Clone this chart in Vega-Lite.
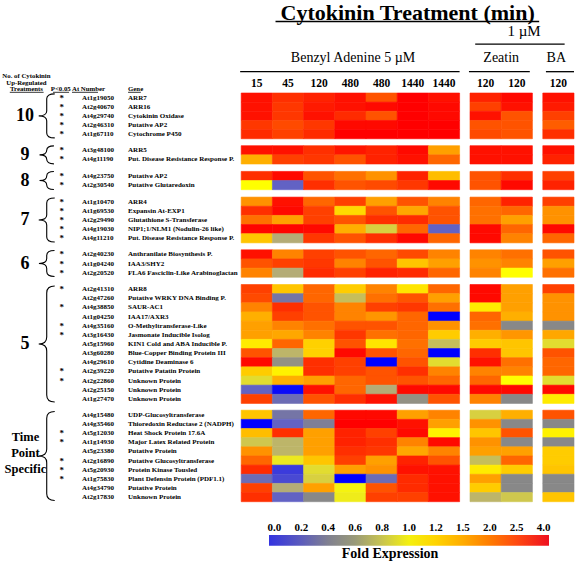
{
"$schema":"https://vega.github.io/schema/vega-lite/v6.json",
"padding":{"left":2,"right":2,"top":0,"bottom":0},
"config":{"view":{"stroke":null},"font":"Liberation Serif","axis":{"disable":true},"legend":{"disable":true}},
"data":{"values":[
{"grp":"10","p":"*","at":"At1g19050","gene":"ARR7","BA15":3.6,"BA45":2.9,"BA120":3.2,"BA480a":3.6,"BA480b":2.3,"BA1440a":4,"BA1440b":3.6,"Z120a":3.2,"Z120b":3.8,"B120":3.6},
{"grp":"10","p":"*","at":"At2g40670","gene":"ARR16","BA15":3.6,"BA45":2.7,"BA120":3.4,"BA480a":3.6,"BA480b":3.8,"BA1440a":4,"BA1440b":3.8,"Z120a":2.5,"Z120b":3.6,"B120":3.4},
{"grp":"10","p":"*","at":"At4g29740","gene":"Cytokinin Oxidase","BA15":3.6,"BA45":2.7,"BA120":3.6,"BA480a":3.0,"BA480b":2.3,"BA1440a":4,"BA1440b":3.8,"Z120a":3.6,"Z120b":2.3,"B120":2.5},
{"grp":"10","p":"*","at":"At2g46310","gene":"Putative AP2","BA15":2.7,"BA45":2.4,"BA120":2.7,"BA480a":3.8,"BA480b":3.8,"BA1440a":4,"BA1440b":4,"Z120a":2.3,"Z120b":2.3,"B120":2.2},
{"grp":"10","p":"*","at":"At1g67110","gene":"Cytochrome P450","BA15":3.0,"BA45":2.5,"BA120":3.0,"BA480a":4,"BA480b":4,"BA1440a":4,"BA1440b":4,"Z120a":2.4,"Z120b":2.3,"B120":2.9},
{"grp":"9","p":"*","at":"At3g48100","gene":"ARR5","BA15":3.6,"BA45":3.6,"BA120":2.9,"BA480a":3.5,"BA480b":3.2,"BA1440a":3.8,"BA1440b":1.5,"Z120a":3.6,"Z120b":3.6,"B120":3.6},
{"grp":"9","p":"*","at":"At4g11190","gene":"Put. Disease Resistance Response P.","BA15":1.4,"BA45":2.5,"BA120":2.7,"BA480a":2.3,"BA480b":3.2,"BA1440a":3.6,"BA1440b":2.1,"Z120a":3.6,"Z120b":3.6,"B120":3.2},
{"grp":"8","p":"*","at":"At4g23750","gene":"Putative AP2","BA15":2.9,"BA45":3.8,"BA120":2.3,"BA480a":2.0,"BA480b":1.65,"BA1440a":3.2,"BA1440b":1.3,"Z120a":2.3,"Z120b":2.9,"B120":2.5},
{"grp":"8","p":"*","at":"At2g30540","gene":"Putative Glutaredoxin","BA15":1.0,"BA45":0.2,"BA120":2.9,"BA480a":2.3,"BA480b":2.4,"BA1440a":2.7,"BA1440b":3.8,"Z120a":2.3,"Z120b":3.8,"B120":3.2},
{"grp":"7","p":"*","at":"At1g10470","gene":"ARR4","BA15":1.65,"BA45":3.6,"BA120":2.1,"BA480a":2.5,"BA480b":1.5,"BA1440a":2.3,"BA1440b":1.8,"Z120a":2.1,"Z120b":3.2,"B120":2.5},
{"grp":"7","p":"*","at":"At1g69530","gene":"Expansin At-EXP1","BA15":2.9,"BA45":3.8,"BA120":2.5,"BA480a":1.15,"BA480b":2.3,"BA1440a":1.45,"BA1440b":2.3,"Z120a":2.0,"Z120b":2.1,"B120":1.65},
{"grp":"7","p":"*","at":"At2g29490","gene":"Glutathione S-Transferase","BA15":2.0,"BA45":1.5,"BA120":2.5,"BA480a":2.3,"BA480b":2.9,"BA1440a":3.0,"BA1440b":2.3,"Z120a":2.0,"Z120b":1.5,"B120":1.65},
{"grp":"7","p":"*","at":"At4g19030","gene":"NIP1;1/NLM1 (Nodulin-26 like)","BA15":3.9,"BA45":3.9,"BA120":3.8,"BA480a":1.4,"BA480b":0.8,"BA1440a":2.1,"BA1440b":0.2,"Z120a":3.8,"Z120b":2.1,"B120":3.8},
{"grp":"7","p":"*","at":"At4g11210","gene":"Put. Disease Resistance Response P.","BA15":1.25,"BA45":0.6,"BA120":2.7,"BA480a":2.3,"BA480b":2.9,"BA1440a":3.8,"BA1440b":2.1,"Z120a":3.8,"Z120b":1.8,"B120":2.1},
{"grp":"6","p":"*","at":"At2g40230","gene":"Anthranilate Biosynthesis P.","BA15":3.6,"BA45":1.8,"BA120":2.5,"BA480a":2.3,"BA480b":2.1,"BA1440a":2.4,"BA1440b":1.8,"Z120a":1.8,"Z120b":2.0,"B120":2.3},
{"grp":"6","p":"*","at":"At1g04240","gene":"IAA3/SHY2","BA15":2.3,"BA45":2.5,"BA120":2.7,"BA480a":1.8,"BA480b":2.3,"BA1440a":1.25,"BA1440b":1.5,"Z120a":1.65,"Z120b":1.8,"B120":1.5},
{"grp":"6","p":"*","at":"At2g20520","gene":"FLA6 Fasciclin-Like Arabinoglactan","BA15":1.8,"BA45":0.6,"BA120":3.0,"BA480a":2.5,"BA480b":3.2,"BA1440a":3.0,"BA1440b":2.1,"Z120a":1.8,"Z120b":1.0,"B120":2.0},
{"grp":"5","p":"*","at":"At2g41310","gene":"ARR8","BA15":2.5,"BA45":1.25,"BA120":2.1,"BA480a":1.2,"BA480b":1.8,"BA1440a":1.1,"BA1440b":2.1,"Z120a":3.8,"Z120b":1.5,"B120":2.5},
{"grp":"5","p":"","at":"At2g47260","gene":"Putative WRKY DNA Binding P.","BA15":2.4,"BA45":0.3,"BA120":2.1,"BA480a":0.7,"BA480b":2.0,"BA1440a":2.3,"BA1440b":1.5,"Z120a":3.8,"Z120b":1.5,"B120":1.65},
{"grp":"5","p":"*","at":"At4g38850","gene":"SAUR-AC1","BA15":1.8,"BA45":2.9,"BA120":2.3,"BA480a":1.8,"BA480b":2.5,"BA1440a":2.7,"BA1440b":2.0,"Z120a":1.08,"Z120b":1.5,"B120":1.65},
{"grp":"5","p":"","at":"At1g04250","gene":"IAA17/AXR3","BA15":1.4,"BA45":2.5,"BA120":2.3,"BA480a":1.8,"BA480b":1.6,"BA1440a":2.1,"BA1440b":0.0,"Z120a":2.1,"Z120b":1.4,"B120":1.65},
{"grp":"5","p":"*","at":"At4g35160","gene":"O-Methyltransferase-Like","BA15":1.5,"BA45":1.8,"BA120":2.0,"BA480a":2.3,"BA480b":2.3,"BA1440a":2.1,"BA1440b":1.65,"Z120a":2.0,"Z120b":0.4,"B120":0.4},
{"grp":"5","p":"*","at":"At3g16430","gene":"Jasmonate Inducible Isolog","BA15":1.5,"BA45":1.45,"BA120":1.8,"BA480a":2.7,"BA480b":2.0,"BA1440a":2.1,"BA1440b":1.2,"Z120a":1.4,"Z120b":1.6,"B120":1.45},
{"grp":"5","p":"","at":"At5g15960","gene":"KIN1 Cold and ABA Inducible P.","BA15":1.08,"BA45":2.1,"BA120":1.18,"BA480a":2.3,"BA480b":1.1,"BA1440a":2.0,"BA1440b":0.7,"Z120a":1.2,"Z120b":1.25,"B120":0.85},
{"grp":"5","p":"","at":"At3g60280","gene":"Blue-Copper Binding Protein III","BA15":2.3,"BA45":0.65,"BA120":1.18,"BA480a":3.8,"BA480b":2.3,"BA1440a":2.1,"BA1440b":0.0,"Z120a":2.9,"Z120b":1.25,"B120":2.3},
{"grp":"5","p":"","at":"At4g29610","gene":"Cytidine Deaminase 6","BA15":3.8,"BA45":0.45,"BA120":2.9,"BA480a":2.5,"BA480b":0.0,"BA1440a":2.3,"BA1440b":0.85,"Z120a":3.6,"Z120b":2.0,"B120":2.1},
{"grp":"5","p":"*","at":"At2g39220","gene":"Putative Patatin Protein","BA15":1.2,"BA45":1.05,"BA120":2.9,"BA480a":2.5,"BA480b":2.3,"BA1440a":2.9,"BA1440b":1.8,"Z120a":1.8,"Z120b":1.8,"B120":2.1},
{"grp":"5","p":"*","at":"At2g22860","gene":"Unknown Protein","BA15":0.85,"BA45":1.4,"BA120":1.5,"BA480a":2.1,"BA480b":2.3,"BA1440a":2.3,"BA1440b":2.1,"Z120a":2.1,"Z120b":1.0,"B120":0.85},
{"grp":"5","p":"","at":"At2g25150","gene":"Unknown Protein","BA15":0.2,"BA45":0.02,"BA120":3.6,"BA480a":2.1,"BA480b":0.6,"BA1440a":3.8,"BA1440b":3.8,"Z120a":3.8,"Z120b":3.8,"B120":3.8},
{"grp":"5","p":"","at":"At1g27470","gene":"Unknown Protein","BA15":2.5,"BA45":0.25,"BA120":2.3,"BA480a":2.9,"BA480b":3.6,"BA1440a":0.45,"BA1440b":2.3,"Z120a":1.8,"Z120b":0.4,"B120":1.08},
{"grp":"T","p":"","at":"At4g15480","gene":"UDP-Glucosyltransferase","BA15":1.25,"BA45":0.3,"BA120":2.1,"BA480a":3.8,"BA480b":3.8,"BA1440a":1.5,"BA1440b":1.8,"Z120a":0.8,"Z120b":1.4,"B120":2.3},
{"grp":"T","p":"","at":"At4g35460","gene":"Thioredoxin Reductase 2 (NADPH)","BA15":0.0,"BA45":0.2,"BA120":0.35,"BA480a":4,"BA480b":4,"BA1440a":3.6,"BA1440b":1.5,"Z120a":1.65,"Z120b":0.4,"B120":0.4},
{"grp":"T","p":"*","at":"At5g12030","gene":"Heat Shock Protein 17.6A","BA15":1.3,"BA45":2.9,"BA120":1.5,"BA480a":3.2,"BA480b":2.5,"BA1440a":3.8,"BA1440b":1.05,"Z120a":1.25,"Z120b":2.3,"B120":1.05},
{"grp":"T","p":"*","at":"At1g14930","gene":"Major Latex Related Protein","BA15":0.75,"BA45":0.65,"BA120":1.5,"BA480a":3.2,"BA480b":2.9,"BA1440a":1.8,"BA1440b":3.8,"Z120a":1.65,"Z120b":0.4,"B120":0.4},
{"grp":"T","p":"","at":"At5g23380","gene":"Putative Protein","BA15":1.65,"BA45":0.65,"BA120":1.5,"BA480a":2.9,"BA480b":2.7,"BA1440a":1.45,"BA1440b":1.8,"Z120a":1.5,"Z120b":1.5,"B120":1.2},
{"grp":"T","p":"*","at":"At2g16890","gene":"Putative Glucosyltransferase","BA15":2.1,"BA45":0.9,"BA120":1.25,"BA480a":2.5,"BA480b":1.5,"BA1440a":3.2,"BA1440b":2.3,"Z120a":0.7,"Z120b":2.1,"B120":1.2},
{"grp":"T","p":"*","at":"At5g20930","gene":"Protein Kinase Tousled","BA15":3.0,"BA45":0.12,"BA120":0.85,"BA480a":1.5,"BA480b":1.65,"BA1440a":3.6,"BA1440b":3.6,"Z120a":1.08,"Z120b":1.2,"B120":1.25},
{"grp":"T","p":"*","at":"At1g75830","gene":"Plant Defensin Protein (PDF1.1)","BA15":0.25,"BA45":0.15,"BA120":0.8,"BA480a":0.0,"BA480b":0.25,"BA1440a":3.0,"BA1440b":3.6,"Z120a":1.5,"Z120b":0.4,"B120":0.4},
{"grp":"T","p":"","at":"At4g34790","gene":"Putative Protein","BA15":2.5,"BA45":0.6,"BA120":1.5,"BA480a":0.95,"BA480b":2.3,"BA1440a":3.0,"BA1440b":3.6,"Z120a":1.2,"Z120b":0.4,"B120":0.4},
{"grp":"T","p":"","at":"At2g17830","gene":"Unknown Protein","BA15":2.9,"BA45":0.2,"BA120":0.4,"BA480a":0.92,"BA480b":2.5,"BA1440a":2.5,"BA1440b":3.6,"Z120a":0.65,"Z120b":0.75,"B120":1.25}
]},
"datasets":{
"cols":[{"col":"BA15","t":"15"},{"col":"BA45","t":"45"},{"col":"BA120","t":"120"},{"col":"BA480a","t":"480"},{"col":"BA480b","t":"480"},{"col":"BA1440a","t":"1440"},{"col":"BA1440b","t":"1440"},{"col":"Z120a","t":"120"},{"col":"Z120b","t":"120"},{"col":"B120","t":"120"}],
"legend":[{"lab":"0.0"},{"lab":"0.2"},{"lab":"0.4"},{"lab":"0.6"},{"lab":"0.8"},{"lab":"1.0"},{"lab":"1.2"},{"lab":"1.5"},{"lab":"2.0"},{"lab":"2.5"},{"lab":"4.0"}]
},
"spacing":0,
"bounds":"flush",
"vconcat":[
{
"width":572,"height":92.3,
"data":{"values":[{}]},
"layer":[
{"mark":{"type":"text","text":"Cytokinin Treatment (min)","fontSize":22,"fontWeight":"bold","align":"center","baseline":"alphabetic"},
 "encoding":{"x":{"datum":"BA1440a","bandPosition":0,"type":"nominal","scale":{"domain":["L0","L1","L2","L3","L4","L5","L6","L7","L8","L9","L10","L11","L12","L13","L14","L15","L16","L17","L18","L19","L20","L21","L22","p1","BA15","q1","p2","BA45","q2","p3","BA120","q3","p4","BA480a","q4","p5","BA480b","q5","p6","BA1440a","q6","p7","BA1440b","q7","g1","p8","Z120a","q8","p9","Z120b","q9","g2","p10","B120","q10"],"paddingInner":0,"paddingOuter":0}},
 "y":{"datum":10,"bandPosition":0.2,"type":"ordinal","scale":{"domain":[0,1,2,3,4,5,6,7,8,9,10,11,12,13,14,15,16,17,18,19,20,21,22,23,24,25,26,27,28,29,30,31,32,33,34,35,36,37,38,39,40,41,42,43,44,45,46],"paddingInner":0,"paddingOuter":0}}}},
{"mark":{"type":"rule","strokeWidth":1.6,"color":"black"},"encoding":{"x":{"datum":"p2","bandPosition":0.3,"type":"nominal"},"x2":{"datum":"g2","bandPosition":0.65},"y":{"datum":10,"bandPosition":0.95,"type":"ordinal"}}},
{"mark":{"type":"text","text":"1 µM","fontSize":15,"align":"center","baseline":"alphabetic"},"encoding":{"x":{"datum":"q9","bandPosition":0.2,"type":"nominal"},"y":{"datum":18,"type":"ordinal"}}},
{"mark":{"type":"rule","strokeWidth":1.3,"color":"black"},"encoding":{"x":{"datum":"p8","bandPosition":0.5,"type":"nominal"},"x2":{"datum":"q10","bandPosition":0.1},"y":{"datum":22,"type":"ordinal"}}},
{"mark":{"type":"text","text":"Benzyl Adenine  5 µM","fontSize":14,"align":"center","baseline":"alphabetic"},"encoding":{"x":{"datum":"BA480a","bandPosition":0.75,"type":"nominal"},"y":{"datum":31,"type":"ordinal"}}},
{"mark":{"type":"text","text":"Zeatin","fontSize":14,"align":"center","baseline":"alphabetic"},"encoding":{"x":{"datum":"p9","bandPosition":0,"type":"nominal"},"y":{"datum":31,"type":"ordinal"}}},
{"mark":{"type":"text","text":"BA","fontSize":14,"align":"center","baseline":"alphabetic"},"encoding":{"x":{"datum":"B120","bandPosition":0.3,"type":"nominal"},"y":{"datum":31,"type":"ordinal"}}},
{"mark":{"type":"rule","strokeWidth":1.3,"color":"black"},"encoding":{"x":{"datum":"L22","bandPosition":0.9,"type":"nominal"},"x2":{"datum":"q7","bandPosition":1},"y":{"datum":36,"type":"ordinal"}}},
{"mark":{"type":"rule","strokeWidth":1.3,"color":"black"},"encoding":{"x":{"datum":"g1","bandPosition":0.9,"type":"nominal"},"x2":{"datum":"q9","bandPosition":0.75},"y":{"datum":36,"type":"ordinal"}}},
{"mark":{"type":"rule","strokeWidth":1.3,"color":"black"},"encoding":{"x":{"datum":"p10","bandPosition":0.3,"type":"nominal"},"x2":{"datum":"q10","bandPosition":1},"y":{"datum":36,"type":"ordinal"}}},
{"data":{"name":"cols"},"mark":{"type":"text","fontSize":11.5,"fontWeight":"bold","align":"center","baseline":"alphabetic"},"encoding":{"x":{"field":"col","type":"nominal"},"y":{"datum":44,"type":"ordinal"},"text":{"field":"t"}}},
{"mark":{"type":"text","text":"No. of Cytokinin","fontSize":6.8,"fontWeight":"bold","align":"center","baseline":"alphabetic"},"encoding":{"x":{"datum":"L2","bandPosition":0.35,"type":"nominal"},"y":{"datum":39,"type":"ordinal"}}},
{"mark":{"type":"text","text":"Up-Regulated","fontSize":6.8,"fontWeight":"bold","align":"center","baseline":"alphabetic"},"encoding":{"x":{"datum":"L2","bandPosition":0.35,"type":"nominal"},"y":{"datum":43,"type":"ordinal"}}},
{"mark":{"type":"text","text":"Treatments","fontSize":6.8,"fontWeight":"bold","align":"center","baseline":"alphabetic"},"encoding":{"x":{"datum":"L2","bandPosition":0.35,"type":"nominal"},"y":{"datum":46,"type":"ordinal"}}},
{"mark":{"type":"text","text":"P<0.05","fontSize":6.8,"fontWeight":"bold","align":"center","baseline":"alphabetic"},"encoding":{"x":{"datum":"L5","bandPosition":0.65,"type":"nominal"},"y":{"datum":46,"type":"ordinal"}}},
{"mark":{"type":"text","text":"At Number","fontSize":6.8,"fontWeight":"bold","align":"left","baseline":"alphabetic"},"encoding":{"x":{"datum":"L6","bandPosition":0.73,"type":"nominal"},"y":{"datum":46,"type":"ordinal"}}},
{"mark":{"type":"text","text":"Gene","fontSize":6.8,"fontWeight":"bold","align":"left","baseline":"alphabetic"},"encoding":{"x":{"datum":"L12","bandPosition":0.12,"type":"nominal"},"y":{"datum":46,"type":"ordinal"}}},
{"mark":{"type":"rule","strokeWidth":0.8,"color":"black"},"encoding":{"x":{"datum":"L0","bandPosition":0.75,"type":"nominal"},"x2":{"datum":"L4","bandPosition":0.0},"y":{"datum":46,"bandPosition":1,"type":"ordinal"}}},
{"mark":{"type":"rule","strokeWidth":0.8,"color":"black"},"encoding":{"x":{"datum":"L4","bandPosition":0.9,"type":"nominal"},"x2":{"datum":"L6","bandPosition":0.45},"y":{"datum":46,"bandPosition":1,"type":"ordinal"}}},
{"mark":{"type":"rule","strokeWidth":0.8,"color":"black"},"encoding":{"x":{"datum":"L6","bandPosition":0.73,"type":"nominal"},"x2":{"datum":"L9","bandPosition":0.23},"y":{"datum":46,"bandPosition":1,"type":"ordinal"}}},
{"mark":{"type":"rule","strokeWidth":0.8,"color":"black"},"encoding":{"x":{"datum":"L12","bandPosition":0.12,"type":"nominal"},"x2":{"datum":"L13","bandPosition":0.35},"y":{"datum":46,"bandPosition":1,"type":"ordinal"}}}
]
},
{
"spacing":6.7,
"bounds":"flush",
"vconcat":[
{"width":572,"height":45.75,"transform":[{"filter":"datum.grp == '10'"}],
"layer":[
{"transform":[{"fold":["BA15","BA45","BA120","BA480a","BA480b","BA1440a","BA1440b","Z120a","Z120b","B120"],"as":["col","fold"]}],
 "mark":{"type":"rect","width":{"band":3},"strokeWidth":0.6},
 "encoding":{"x":{"field":"col","type":"nominal","scale":{"domain":["L0","L1","L2","L3","L4","L5","L6","L7","L8","L9","L10","L11","L12","L13","L14","L15","L16","L17","L18","L19","L20","L21","L22","p1","BA15","q1","p2","BA45","q2","p3","BA120","q3","p4","BA480a","q4","p5","BA480b","q5","p6","BA1440a","q6","p7","BA1440b","q7","g1","p8","Z120a","q8","p9","Z120b","q9","g2","p10","B120","q10"],"paddingInner":0,"paddingOuter":0}},
 "y":{"field":"at","type":"nominal","scale":{"domain":["At1g19050","At2g40670","At4g29740","At2g46310","At1g67110"],"paddingInner":0,"paddingOuter":0}},
 "color":{"field":"fold","type":"quantitative","scale":{"type":"linear","domain":[0,0.2,0.4,0.6,0.8,1,1.2,1.5,2,2.5,4],"range":["#0000ff","#6262c4","#888888","#b4ac76","#d8d040","#ffff00","#ffcc00","#ffa000","#ff7000","#ff4000","#ff0000"],"interpolate":"rgb"}},
 "stroke":{"field":"fold","type":"quantitative","scale":{"type":"linear","domain":[0,0.2,0.4,0.6,0.8,1,1.2,1.5,2,2.5,4],"range":["#0000ff","#6262c4","#888888","#b4ac76","#d8d040","#ffff00","#ffcc00","#ffa000","#ff7000","#ff4000","#ff0000"],"interpolate":"rgb"}}}},
{"transform":[{"filter":"datum.p == '*'"}],"mark":{"type":"text","text":"*","fontSize":9,"fontWeight":"bold"},"encoding":{"x":{"datum":"L5","bandPosition":0.75,"type":"nominal"},"y":{"field":"at","type":"nominal"}}},
{"mark":{"type":"text","fontSize":7,"fontWeight":"bold","align":"left"},"encoding":{"x":{"datum":"L7","bandPosition":0.7,"type":"nominal"},"y":{"field":"at","type":"nominal"},"text":{"field":"at"}}},
{"mark":{"type":"text","fontSize":7,"fontWeight":"bold","align":"left"},"encoding":{"x":{"datum":"L12","bandPosition":0.12,"type":"nominal"},"y":{"field":"at","type":"nominal"},"text":{"field":"gene"}}},
{"transform":[{"aggregate":[{"op":"count","as":"n"}]}],"mark":{"type":"text","text":"10","fontSize":18,"fontWeight":"bold"},"encoding":{"x":{"datum":"L2","bandPosition":0.2,"type":"nominal"}}},
{"transform":[{"aggregate":[{"op":"count","as":"n"}]}],"mark":{"type":"point","shape":"M0.364,-1Q0,-1 0,-0.773L0,-0.227Q0,0 -0.364,0Q0,0 0,0.227L0,0.773Q0,1 0.364,1","size":1936,"filled":false,"color":"black","strokeWidth":1.1,"opacity":1},"encoding":{"x":{"datum":"L4","bandPosition":0.3,"type":"nominal"}}}
]},
{"width":572,"height":18.3,"transform":[{"filter":"datum.grp == '9'"}],
"layer":[
{"transform":[{"fold":["BA15","BA45","BA120","BA480a","BA480b","BA1440a","BA1440b","Z120a","Z120b","B120"],"as":["col","fold"]}],
 "mark":{"type":"rect","width":{"band":3},"strokeWidth":0.6},
 "encoding":{"x":{"field":"col","type":"nominal","scale":{"domain":["L0","L1","L2","L3","L4","L5","L6","L7","L8","L9","L10","L11","L12","L13","L14","L15","L16","L17","L18","L19","L20","L21","L22","p1","BA15","q1","p2","BA45","q2","p3","BA120","q3","p4","BA480a","q4","p5","BA480b","q5","p6","BA1440a","q6","p7","BA1440b","q7","g1","p8","Z120a","q8","p9","Z120b","q9","g2","p10","B120","q10"],"paddingInner":0,"paddingOuter":0}},
 "y":{"field":"at","type":"nominal","scale":{"domain":["At3g48100","At4g11190"],"paddingInner":0,"paddingOuter":0}},
 "color":{"field":"fold","type":"quantitative","scale":{"type":"linear","domain":[0,0.2,0.4,0.6,0.8,1,1.2,1.5,2,2.5,4],"range":["#0000ff","#6262c4","#888888","#b4ac76","#d8d040","#ffff00","#ffcc00","#ffa000","#ff7000","#ff4000","#ff0000"],"interpolate":"rgb"}},
 "stroke":{"field":"fold","type":"quantitative","scale":{"type":"linear","domain":[0,0.2,0.4,0.6,0.8,1,1.2,1.5,2,2.5,4],"range":["#0000ff","#6262c4","#888888","#b4ac76","#d8d040","#ffff00","#ffcc00","#ffa000","#ff7000","#ff4000","#ff0000"],"interpolate":"rgb"}}}},
{"transform":[{"filter":"datum.p == '*'"}],"mark":{"type":"text","text":"*","fontSize":9,"fontWeight":"bold"},"encoding":{"x":{"datum":"L5","bandPosition":0.75,"type":"nominal"},"y":{"field":"at","type":"nominal"}}},
{"mark":{"type":"text","fontSize":7,"fontWeight":"bold","align":"left"},"encoding":{"x":{"datum":"L7","bandPosition":0.7,"type":"nominal"},"y":{"field":"at","type":"nominal"},"text":{"field":"at"}}},
{"mark":{"type":"text","fontSize":7,"fontWeight":"bold","align":"left"},"encoding":{"x":{"datum":"L12","bandPosition":0.12,"type":"nominal"},"y":{"field":"at","type":"nominal"},"text":{"field":"gene"}}},
{"transform":[{"aggregate":[{"op":"count","as":"n"}]}],"mark":{"type":"text","text":"9","fontSize":18,"fontWeight":"bold"},"encoding":{"x":{"datum":"L2","bandPosition":0.2,"type":"nominal"}}},
{"transform":[{"aggregate":[{"op":"count","as":"n"}]}],"mark":{"type":"point","shape":"M0.8,-1Q0,-1 0,-0.5Q0,0 -0.8,0Q0,0 0,0.5Q0,1 0.8,1","size":324,"filled":false,"color":"black","strokeWidth":1.1,"opacity":1},"encoding":{"x":{"datum":"L4","bandPosition":0.3,"type":"nominal"}}}
]},
{"width":572,"height":18.3,"transform":[{"filter":"datum.grp == '8'"}],
"layer":[
{"transform":[{"fold":["BA15","BA45","BA120","BA480a","BA480b","BA1440a","BA1440b","Z120a","Z120b","B120"],"as":["col","fold"]}],
 "mark":{"type":"rect","width":{"band":3},"strokeWidth":0.6},
 "encoding":{"x":{"field":"col","type":"nominal","scale":{"domain":["L0","L1","L2","L3","L4","L5","L6","L7","L8","L9","L10","L11","L12","L13","L14","L15","L16","L17","L18","L19","L20","L21","L22","p1","BA15","q1","p2","BA45","q2","p3","BA120","q3","p4","BA480a","q4","p5","BA480b","q5","p6","BA1440a","q6","p7","BA1440b","q7","g1","p8","Z120a","q8","p9","Z120b","q9","g2","p10","B120","q10"],"paddingInner":0,"paddingOuter":0}},
 "y":{"field":"at","type":"nominal","scale":{"domain":["At4g23750","At2g30540"],"paddingInner":0,"paddingOuter":0}},
 "color":{"field":"fold","type":"quantitative","scale":{"type":"linear","domain":[0,0.2,0.4,0.6,0.8,1,1.2,1.5,2,2.5,4],"range":["#0000ff","#6262c4","#888888","#b4ac76","#d8d040","#ffff00","#ffcc00","#ffa000","#ff7000","#ff4000","#ff0000"],"interpolate":"rgb"}},
 "stroke":{"field":"fold","type":"quantitative","scale":{"type":"linear","domain":[0,0.2,0.4,0.6,0.8,1,1.2,1.5,2,2.5,4],"range":["#0000ff","#6262c4","#888888","#b4ac76","#d8d040","#ffff00","#ffcc00","#ffa000","#ff7000","#ff4000","#ff0000"],"interpolate":"rgb"}}}},
{"transform":[{"filter":"datum.p == '*'"}],"mark":{"type":"text","text":"*","fontSize":9,"fontWeight":"bold"},"encoding":{"x":{"datum":"L5","bandPosition":0.75,"type":"nominal"},"y":{"field":"at","type":"nominal"}}},
{"mark":{"type":"text","fontSize":7,"fontWeight":"bold","align":"left"},"encoding":{"x":{"datum":"L7","bandPosition":0.7,"type":"nominal"},"y":{"field":"at","type":"nominal"},"text":{"field":"at"}}},
{"mark":{"type":"text","fontSize":7,"fontWeight":"bold","align":"left"},"encoding":{"x":{"datum":"L12","bandPosition":0.12,"type":"nominal"},"y":{"field":"at","type":"nominal"},"text":{"field":"gene"}}},
{"transform":[{"aggregate":[{"op":"count","as":"n"}]}],"mark":{"type":"text","text":"8","fontSize":18,"fontWeight":"bold"},"encoding":{"x":{"datum":"L2","bandPosition":0.2,"type":"nominal"}}},
{"transform":[{"aggregate":[{"op":"count","as":"n"}]}],"mark":{"type":"point","shape":"M0.8,-1Q0,-1 0,-0.5Q0,0 -0.8,0Q0,0 0,0.5Q0,1 0.8,1","size":324,"filled":false,"color":"black","strokeWidth":1.1,"opacity":1},"encoding":{"x":{"datum":"L4","bandPosition":0.3,"type":"nominal"}}}
]},
{"width":572,"height":45.75,"transform":[{"filter":"datum.grp == '7'"}],
"layer":[
{"transform":[{"fold":["BA15","BA45","BA120","BA480a","BA480b","BA1440a","BA1440b","Z120a","Z120b","B120"],"as":["col","fold"]}],
 "mark":{"type":"rect","width":{"band":3},"strokeWidth":0.6},
 "encoding":{"x":{"field":"col","type":"nominal","scale":{"domain":["L0","L1","L2","L3","L4","L5","L6","L7","L8","L9","L10","L11","L12","L13","L14","L15","L16","L17","L18","L19","L20","L21","L22","p1","BA15","q1","p2","BA45","q2","p3","BA120","q3","p4","BA480a","q4","p5","BA480b","q5","p6","BA1440a","q6","p7","BA1440b","q7","g1","p8","Z120a","q8","p9","Z120b","q9","g2","p10","B120","q10"],"paddingInner":0,"paddingOuter":0}},
 "y":{"field":"at","type":"nominal","scale":{"domain":["At1g10470","At1g69530","At2g29490","At4g19030","At4g11210"],"paddingInner":0,"paddingOuter":0}},
 "color":{"field":"fold","type":"quantitative","scale":{"type":"linear","domain":[0,0.2,0.4,0.6,0.8,1,1.2,1.5,2,2.5,4],"range":["#0000ff","#6262c4","#888888","#b4ac76","#d8d040","#ffff00","#ffcc00","#ffa000","#ff7000","#ff4000","#ff0000"],"interpolate":"rgb"}},
 "stroke":{"field":"fold","type":"quantitative","scale":{"type":"linear","domain":[0,0.2,0.4,0.6,0.8,1,1.2,1.5,2,2.5,4],"range":["#0000ff","#6262c4","#888888","#b4ac76","#d8d040","#ffff00","#ffcc00","#ffa000","#ff7000","#ff4000","#ff0000"],"interpolate":"rgb"}}}},
{"transform":[{"filter":"datum.p == '*'"}],"mark":{"type":"text","text":"*","fontSize":9,"fontWeight":"bold"},"encoding":{"x":{"datum":"L5","bandPosition":0.75,"type":"nominal"},"y":{"field":"at","type":"nominal"}}},
{"mark":{"type":"text","fontSize":7,"fontWeight":"bold","align":"left"},"encoding":{"x":{"datum":"L7","bandPosition":0.7,"type":"nominal"},"y":{"field":"at","type":"nominal"},"text":{"field":"at"}}},
{"mark":{"type":"text","fontSize":7,"fontWeight":"bold","align":"left"},"encoding":{"x":{"datum":"L12","bandPosition":0.12,"type":"nominal"},"y":{"field":"at","type":"nominal"},"text":{"field":"gene"}}},
{"transform":[{"aggregate":[{"op":"count","as":"n"}]}],"mark":{"type":"text","text":"7","fontSize":18,"fontWeight":"bold"},"encoding":{"x":{"datum":"L2","bandPosition":0.2,"type":"nominal"}}},
{"transform":[{"aggregate":[{"op":"count","as":"n"}]}],"mark":{"type":"point","shape":"M0.364,-1Q0,-1 0,-0.773L0,-0.227Q0,0 -0.364,0Q0,0 0,0.227L0,0.773Q0,1 0.364,1","size":1936,"filled":false,"color":"black","strokeWidth":1.1,"opacity":1},"encoding":{"x":{"datum":"L4","bandPosition":0.3,"type":"nominal"}}}
]},
{"width":572,"height":27.45,"transform":[{"filter":"datum.grp == '6'"}],
"layer":[
{"transform":[{"fold":["BA15","BA45","BA120","BA480a","BA480b","BA1440a","BA1440b","Z120a","Z120b","B120"],"as":["col","fold"]}],
 "mark":{"type":"rect","width":{"band":3},"strokeWidth":0.6},
 "encoding":{"x":{"field":"col","type":"nominal","scale":{"domain":["L0","L1","L2","L3","L4","L5","L6","L7","L8","L9","L10","L11","L12","L13","L14","L15","L16","L17","L18","L19","L20","L21","L22","p1","BA15","q1","p2","BA45","q2","p3","BA120","q3","p4","BA480a","q4","p5","BA480b","q5","p6","BA1440a","q6","p7","BA1440b","q7","g1","p8","Z120a","q8","p9","Z120b","q9","g2","p10","B120","q10"],"paddingInner":0,"paddingOuter":0}},
 "y":{"field":"at","type":"nominal","scale":{"domain":["At2g40230","At1g04240","At2g20520"],"paddingInner":0,"paddingOuter":0}},
 "color":{"field":"fold","type":"quantitative","scale":{"type":"linear","domain":[0,0.2,0.4,0.6,0.8,1,1.2,1.5,2,2.5,4],"range":["#0000ff","#6262c4","#888888","#b4ac76","#d8d040","#ffff00","#ffcc00","#ffa000","#ff7000","#ff4000","#ff0000"],"interpolate":"rgb"}},
 "stroke":{"field":"fold","type":"quantitative","scale":{"type":"linear","domain":[0,0.2,0.4,0.6,0.8,1,1.2,1.5,2,2.5,4],"range":["#0000ff","#6262c4","#888888","#b4ac76","#d8d040","#ffff00","#ffcc00","#ffa000","#ff7000","#ff4000","#ff0000"],"interpolate":"rgb"}}}},
{"transform":[{"filter":"datum.p == '*'"}],"mark":{"type":"text","text":"*","fontSize":9,"fontWeight":"bold"},"encoding":{"x":{"datum":"L5","bandPosition":0.75,"type":"nominal"},"y":{"field":"at","type":"nominal"}}},
{"mark":{"type":"text","fontSize":7,"fontWeight":"bold","align":"left"},"encoding":{"x":{"datum":"L7","bandPosition":0.7,"type":"nominal"},"y":{"field":"at","type":"nominal"},"text":{"field":"at"}}},
{"mark":{"type":"text","fontSize":7,"fontWeight":"bold","align":"left"},"encoding":{"x":{"datum":"L12","bandPosition":0.12,"type":"nominal"},"y":{"field":"at","type":"nominal"},"text":{"field":"gene"}}},
{"transform":[{"aggregate":[{"op":"count","as":"n"}]}],"mark":{"type":"text","text":"6","fontSize":18,"fontWeight":"bold"},"encoding":{"x":{"datum":"L2","bandPosition":0.2,"type":"nominal"}}},
{"transform":[{"aggregate":[{"op":"count","as":"n"}]}],"mark":{"type":"point","shape":"M0.6,-1Q0,-1 0,-0.62L0,-0.38Q0,0 -0.6,0Q0,0 0,0.38L0,0.62Q0,1 0.6,1","size":676,"filled":false,"color":"black","strokeWidth":1.1,"opacity":1},"encoding":{"x":{"datum":"L4","bandPosition":0.3,"type":"nominal"}}}
]},
{"width":572,"height":118.95,"transform":[{"filter":"datum.grp == '5'"}],
"layer":[
{"transform":[{"fold":["BA15","BA45","BA120","BA480a","BA480b","BA1440a","BA1440b","Z120a","Z120b","B120"],"as":["col","fold"]}],
 "mark":{"type":"rect","width":{"band":3},"strokeWidth":0.6},
 "encoding":{"x":{"field":"col","type":"nominal","scale":{"domain":["L0","L1","L2","L3","L4","L5","L6","L7","L8","L9","L10","L11","L12","L13","L14","L15","L16","L17","L18","L19","L20","L21","L22","p1","BA15","q1","p2","BA45","q2","p3","BA120","q3","p4","BA480a","q4","p5","BA480b","q5","p6","BA1440a","q6","p7","BA1440b","q7","g1","p8","Z120a","q8","p9","Z120b","q9","g2","p10","B120","q10"],"paddingInner":0,"paddingOuter":0}},
 "y":{"field":"at","type":"nominal","scale":{"domain":["At2g41310","At2g47260","At4g38850","At1g04250","At4g35160","At3g16430","At5g15960","At3g60280","At4g29610","At2g39220","At2g22860","At2g25150","At1g27470"],"paddingInner":0,"paddingOuter":0}},
 "color":{"field":"fold","type":"quantitative","scale":{"type":"linear","domain":[0,0.2,0.4,0.6,0.8,1,1.2,1.5,2,2.5,4],"range":["#0000ff","#6262c4","#888888","#b4ac76","#d8d040","#ffff00","#ffcc00","#ffa000","#ff7000","#ff4000","#ff0000"],"interpolate":"rgb"}},
 "stroke":{"field":"fold","type":"quantitative","scale":{"type":"linear","domain":[0,0.2,0.4,0.6,0.8,1,1.2,1.5,2,2.5,4],"range":["#0000ff","#6262c4","#888888","#b4ac76","#d8d040","#ffff00","#ffcc00","#ffa000","#ff7000","#ff4000","#ff0000"],"interpolate":"rgb"}}}},
{"transform":[{"filter":"datum.p == '*'"}],"mark":{"type":"text","text":"*","fontSize":9,"fontWeight":"bold"},"encoding":{"x":{"datum":"L5","bandPosition":0.75,"type":"nominal"},"y":{"field":"at","type":"nominal"}}},
{"mark":{"type":"text","fontSize":7,"fontWeight":"bold","align":"left"},"encoding":{"x":{"datum":"L7","bandPosition":0.7,"type":"nominal"},"y":{"field":"at","type":"nominal"},"text":{"field":"at"}}},
{"mark":{"type":"text","fontSize":7,"fontWeight":"bold","align":"left"},"encoding":{"x":{"datum":"L12","bandPosition":0.12,"type":"nominal"},"y":{"field":"at","type":"nominal"},"text":{"field":"gene"}}},
{"transform":[{"aggregate":[{"op":"count","as":"n"}]}],"mark":{"type":"text","text":"5","fontSize":18,"fontWeight":"bold"},"encoding":{"x":{"datum":"L2","bandPosition":0.2,"type":"nominal"}}},
{"transform":[{"aggregate":[{"op":"count","as":"n"}]}],"mark":{"type":"point","shape":"M0.138,-1Q0,-1 0,-0.88L0,-0.12Q0,0 -0.138,0Q0,0 0,0.12L0,0.88Q0,1 0.138,1","size":13456,"filled":false,"color":"black","strokeWidth":1.1,"opacity":1},"encoding":{"x":{"datum":"L4","bandPosition":0.3,"type":"nominal"}}}
]},
{"width":572,"height":91.5,"transform":[{"filter":"datum.grp == 'T'"}],
"layer":[
{"transform":[{"fold":["BA15","BA45","BA120","BA480a","BA480b","BA1440a","BA1440b","Z120a","Z120b","B120"],"as":["col","fold"]}],
 "mark":{"type":"rect","width":{"band":3},"strokeWidth":0.6},
 "encoding":{"x":{"field":"col","type":"nominal","scale":{"domain":["L0","L1","L2","L3","L4","L5","L6","L7","L8","L9","L10","L11","L12","L13","L14","L15","L16","L17","L18","L19","L20","L21","L22","p1","BA15","q1","p2","BA45","q2","p3","BA120","q3","p4","BA480a","q4","p5","BA480b","q5","p6","BA1440a","q6","p7","BA1440b","q7","g1","p8","Z120a","q8","p9","Z120b","q9","g2","p10","B120","q10"],"paddingInner":0,"paddingOuter":0}},
 "y":{"field":"at","type":"nominal","scale":{"domain":["At4g15480","At4g35460","At5g12030","At1g14930","At5g23380","At2g16890","At5g20930","At1g75830","At4g34790","At2g17830"],"paddingInner":0,"paddingOuter":0}},
 "color":{"field":"fold","type":"quantitative","scale":{"type":"linear","domain":[0,0.2,0.4,0.6,0.8,1,1.2,1.5,2,2.5,4],"range":["#0000ff","#6262c4","#888888","#b4ac76","#d8d040","#ffff00","#ffcc00","#ffa000","#ff7000","#ff4000","#ff0000"],"interpolate":"rgb"}},
 "stroke":{"field":"fold","type":"quantitative","scale":{"type":"linear","domain":[0,0.2,0.4,0.6,0.8,1,1.2,1.5,2,2.5,4],"range":["#0000ff","#6262c4","#888888","#b4ac76","#d8d040","#ffff00","#ffcc00","#ffa000","#ff7000","#ff4000","#ff0000"],"interpolate":"rgb"}}}},
{"transform":[{"filter":"datum.p == '*'"}],"mark":{"type":"text","text":"*","fontSize":9,"fontWeight":"bold"},"encoding":{"x":{"datum":"L5","bandPosition":0.75,"type":"nominal"},"y":{"field":"at","type":"nominal"}}},
{"mark":{"type":"text","fontSize":7,"fontWeight":"bold","align":"left"},"encoding":{"x":{"datum":"L7","bandPosition":0.7,"type":"nominal"},"y":{"field":"at","type":"nominal"},"text":{"field":"at"}}},
{"mark":{"type":"text","fontSize":7,"fontWeight":"bold","align":"left"},"encoding":{"x":{"datum":"L12","bandPosition":0.12,"type":"nominal"},"y":{"field":"at","type":"nominal"},"text":{"field":"gene"}}},
{"transform":[{"aggregate":[{"op":"count","as":"n"}]}],"mark":{"type":"text","text":"Time\nPoint\nSpecific","lineBreak":"\n","lineHeight":16,"fontSize":12.5,"fontWeight":"bold","dy":-19},"encoding":{"x":{"datum":"L2","bandPosition":0.25,"type":"nominal"}}},
{"transform":[{"aggregate":[{"op":"count","as":"n"}]}],"mark":{"type":"point","shape":"M0.18,-1Q0,-1 0,-0.85L0,-0.15Q0,0 -0.18,0Q0,0 0,0.15L0,0.85Q0,1 0.18,1","size":7921,"filled":false,"color":"black","strokeWidth":1.1,"opacity":1},"encoding":{"x":{"datum":"L4","bandPosition":0.3,"type":"nominal"}}}
]},
{
"spacing":0,
"bounds":"flush",
"hconcat":[
{"width":266.3,"height":55.8,"data":{"values":[]},"mark":"point","encoding":{}},
{"width":280,"height":55.8,
"layer":[
{"data":{"values":[{}]},"mark":{"type":"rect","height":10.7,"fill":{"gradient":"linear","x1":0,"y1":0,"x2":1,"y2":0,"stops":[{"offset":0,"color":"#3434e0"},{"offset":0.115,"color":"#5c5cbc"},{"offset":0.211,"color":"#808090"},{"offset":0.307,"color":"#9a9a78"},{"offset":0.403,"color":"#c8c450"},{"offset":0.5,"color":"#f4f010"},{"offset":0.595,"color":"#ffd400"},{"offset":0.692,"color":"#ffac00"},{"offset":0.788,"color":"#ff7c00"},{"offset":0.884,"color":"#ff4a10"},{"offset":1,"color":"#ee1020"}]}},
 "encoding":{"y":{"datum":17,"type":"ordinal","scale":{"domain":[0,1,2,3,4,5,6,7,8,9,10,11,12,13,14,15,16,17,18,19,20,21,22,23,24,25,26,27,28,29,30],"paddingInner":0,"paddingOuter":0}}}},
{"data":{"name":"legend"},"mark":{"type":"text","fontSize":11,"fontWeight":"bold","align":"center","baseline":"alphabetic"},"encoding":{"x":{"field":"lab","type":"ordinal","sort":null,"scale":{"type":"point","padding":0.2}},"y":{"datum":12,"type":"ordinal"},"text":{"field":"lab"}}},
{"data":{"values":[{}]},"mark":{"type":"text","text":"Fold Expression","fontSize":14,"fontWeight":"bold","align":"center","baseline":"alphabetic","dx":-19},"encoding":{"y":{"datum":27,"type":"ordinal"}}}
]}
]
}
]
}
]
}
